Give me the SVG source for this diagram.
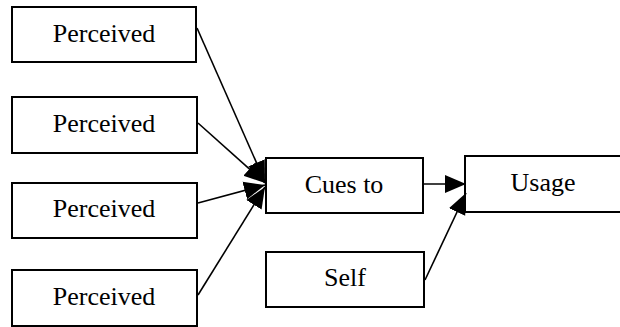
<svg xmlns="http://www.w3.org/2000/svg" width="620" height="327" viewBox="0 0 620 327">
<defs>
<style>
.box{fill:#fff;stroke:#000;stroke-width:2}
.lbl{font-family:"Liberation Serif","Times New Roman",serif;font-size:26px;fill:#000;text-anchor:middle}
.conn{stroke:#000;stroke-width:1.6;fill:none;marker-end:url(#ah)}
</style>
<marker id="ah" markerUnits="userSpaceOnUse" markerWidth="24" markerHeight="20" viewBox="0 0 24 20" refX="21" refY="10" orient="auto">
<path d="M0,1 L21,10 L0,19 Z" fill="#000"/>
</marker>
</defs>
<rect width="620" height="327" fill="#fff"/>
<g id="p1"><rect class="box" x="12" y="7" width="184" height="55"/><text class="lbl" x="104" y="42">Perceived</text></g>
<g id="p2"><rect class="box" x="12" y="97" width="185" height="56"/><text class="lbl" x="104" y="132">Perceived</text></g>
<g id="p3"><rect class="box" x="12" y="183" width="185" height="55"/><text class="lbl" x="104" y="217">Perceived</text></g>
<g id="p4"><rect class="box" x="12" y="270" width="185" height="56"/><text class="lbl" x="104" y="305">Perceived</text></g>
<g id="cues"><rect class="box" x="266" y="158" width="157" height="55"/><text class="lbl" x="344" y="193">Cues to</text></g>
<g id="usage"><rect class="box" x="465" y="156" width="170" height="56"/><text class="lbl" x="543" y="191">Usage</text></g>
<g id="self"><rect class="box" x="266" y="252" width="158" height="55"/><text class="lbl" x="345" y="286">Self</text></g>
<g id="connectors">
<line class="conn" x1="197" y1="28" x2="265" y2="182"/>
<line class="conn" x1="198" y1="123" x2="265" y2="183"/>
<line class="conn" x1="198" y1="203" x2="265" y2="185"/>
<line class="conn" x1="198" y1="295" x2="265" y2="187"/>
<line class="conn" x1="423" y1="184" x2="466" y2="184"/>
<line class="conn" x1="425" y1="280" x2="466" y2="193"/>
</g>
</svg>
